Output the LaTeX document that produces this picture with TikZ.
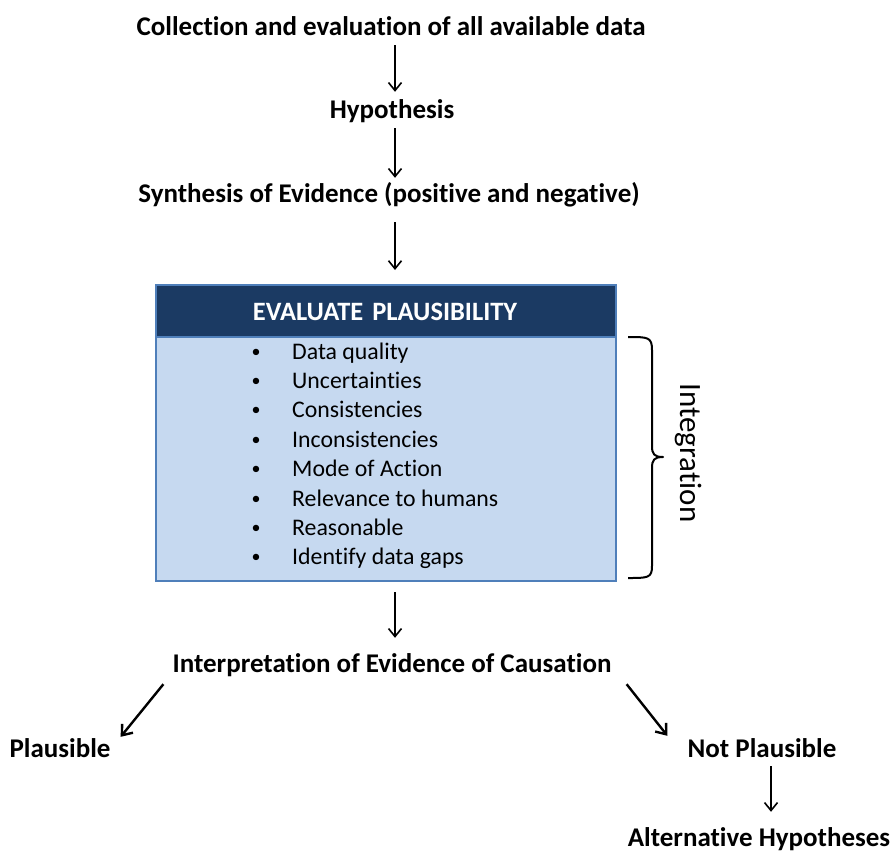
\documentclass[tikz,border=0pt]{standalone}
\usepackage{fontspec}
\setmainfont{Carlito}[Ligatures=CommonOff]
\usetikzlibrary{arrows.meta}
\definecolor{headblue}{HTML}{1B3A63}
\definecolor{bodyblue}{HTML}{C6D9F0}
\definecolor{edgeblue}{HTML}{4F7FBA}
\begin{document}
\begin{tikzpicture}[x=1pt,y=-1pt,
  lbl/.style={inner sep=0pt,anchor=base,text height=18pt,text depth=6pt,font=\fontsize{27}{30}\selectfont\bfseries},
  item/.style={inner sep=0pt,anchor=base west,font=\fontsize{23.8}{28}\selectfont},
  arr/.style={-{Straight Barb[length=8pt,width=13pt]},line width=1.6pt},
  darr/.style={-{Straight Barb[length=9pt,width=14pt]},line width=2.4pt}]
\useasboundingbox (0,0) rectangle (893,854);
\coordinate (axis) at (395,0);
\coordinate (axisr) at (771,0);

% flow labels
\node[lbl] (collect) at (391,35) {Collection and evaluation of all available data};
\node[lbl] (hyp) at (392,118) {Hypothesis};
\node[lbl] (synth) at (389,202) {Synthesis of Evidence (positive and negative)};

% evaluation box
\node[draw=edgeblue,line width=2.2pt,fill=bodyblue,minimum width=460pt,minimum height=296pt,inner sep=0pt,anchor=north west] (box) at (155,284) {};
\node[draw=edgeblue,line width=2.2pt,fill=headblue,minimum width=460pt,minimum height=52pt,inner sep=0pt,anchor=north west] (head) at (155,284) {};
\node[text=white,inner sep=0pt,anchor=base,font=\fontsize{26.5}{30}\selectfont\bfseries] (headtxt) at (385,320) {EVALUATE\hspace{3pt} PLAUSIBILITY};

\foreach \t [count=\i] in {Data quality,Uncertainties,Consistencies,Inconsistencies,Mode of Action,Relevance to humans,Reasonable,Identify data gaps}{
  \node[item] (it\i) at (292,{359+29.4*(\i-1)}) {\t};
  \node[inner sep=0pt,anchor=base,font=\fontsize{18}{20}\selectfont] (bul\i) at (256,{357+29.4*(\i-1)}) {•};
}

% brace and its label
\coordinate (bt) at (628,337);
\coordinate (bb) at (628,578);
\draw[line width=2pt,line join=round] (bt) .. controls (648,337) and (652,337) .. (652,350)
  -- (652,446) .. controls (652,454) and (654,457) .. (663,457)
  .. controls (654,457) and (652,460) .. (652,468)
  -- (652,566) .. controls (652,578) and (648,578) .. (bb);
\node[rotate=-90,inner sep=0pt,font=\fontsize{31}{34}\selectfont] (integ) at (688,453) {Integration};

% outcome labels
\node[lbl] (interp) at (392,672) {Interpretation of Evidence of Causation};
\node[lbl] (plaus) at (60,757) {Plausible};
\node[lbl] (notp) at (762,757) {Not Plausible};
\node[lbl] (alt) at (759,846) {Alternative Hypotheses};

% connectors
\draw[arr,shorten <=4pt,shorten >=8pt] (collect.south -| axis) -- (hyp.north -| axis);
\draw[arr,shorten <=4pt,shorten >=6pt] (hyp.south -| axis) -- (synth.north -| axis);
\draw[arr,shorten <=14pt,shorten >=14pt] (synth.south -| axis) -- (box.north -| axis);
\draw[arr,shorten <=10pt,shorten >=16pt] (box.south -| axis) -- (interp.north -| axis);
\draw[darr] ([shift={(-9,6)}]interp.south west) -- ([shift={(10,-2)}]plaus.north east);
\draw[darr] ([shift={(15,6)}]interp.south east) -- ([shift={(-20,-3)}]notp.north west);
\draw[arr,shorten <=3pt,shorten >=16pt] (notp.south -| axisr) -- (alt.north -| axisr);
\end{tikzpicture}
\end{document}
